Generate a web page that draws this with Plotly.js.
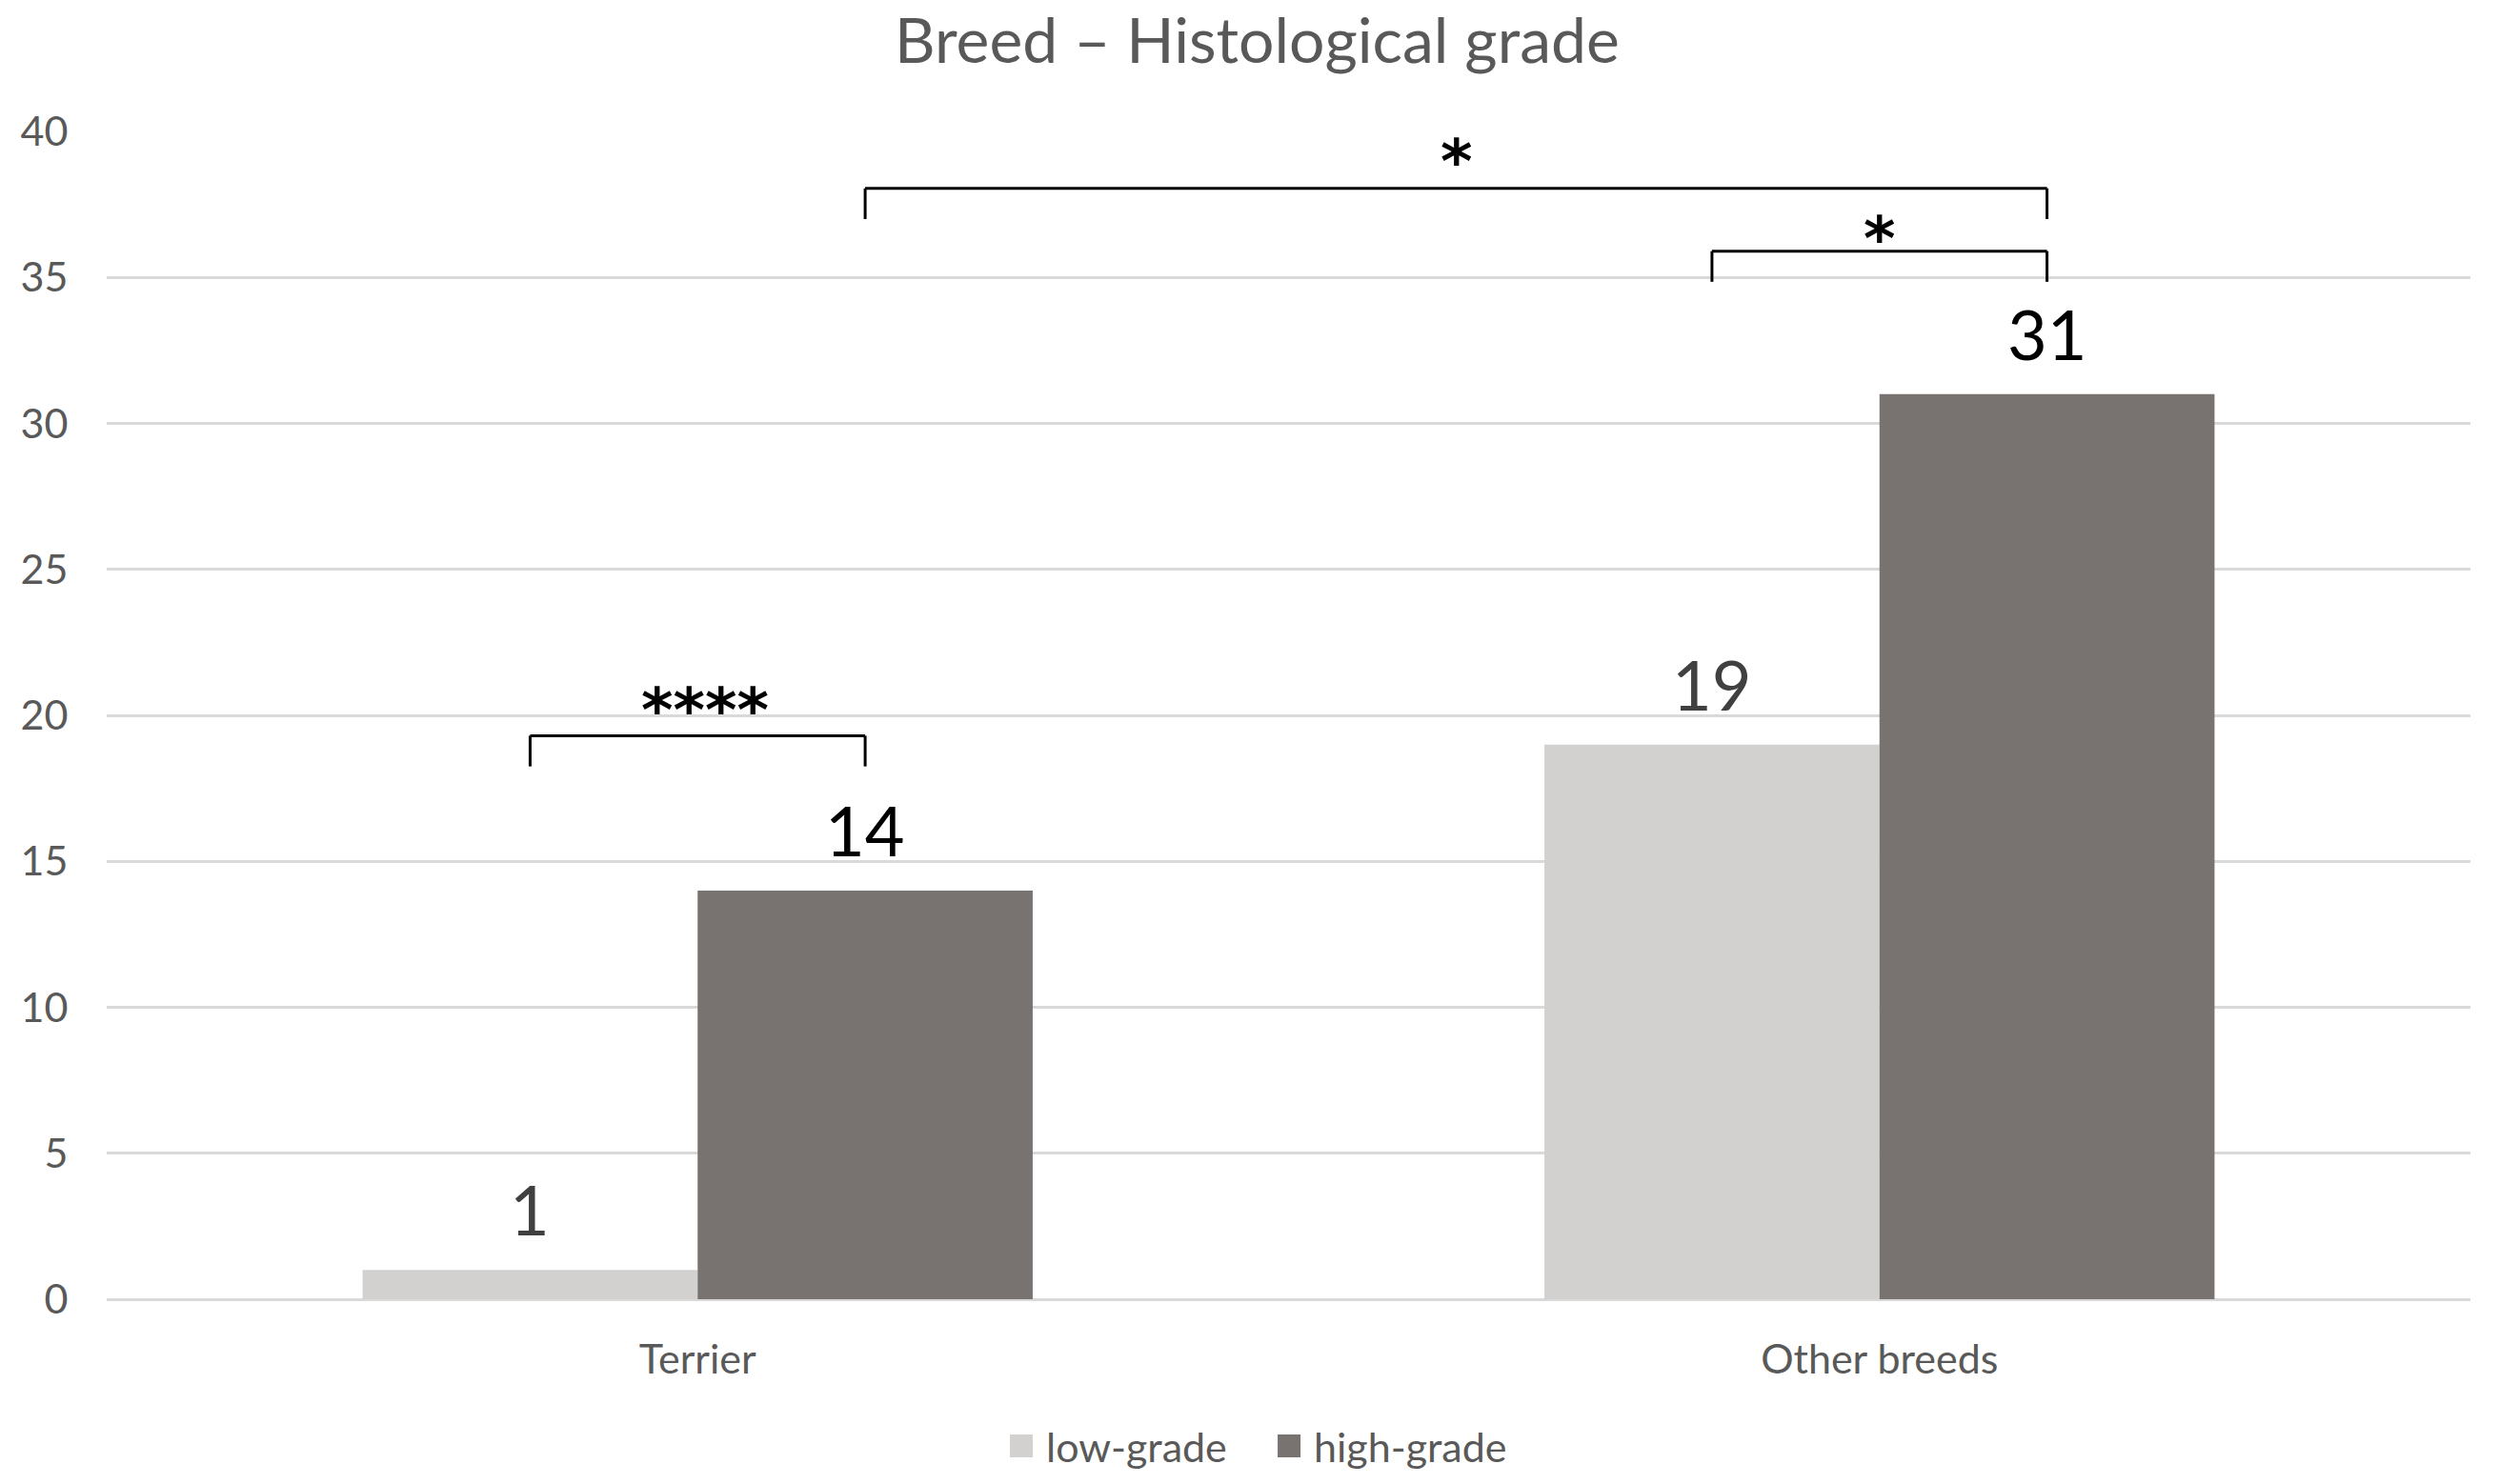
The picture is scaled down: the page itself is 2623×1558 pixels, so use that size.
<!DOCTYPE html>
<html>
<head>
<meta charset="utf-8">
<script src="https://cdn.plot.ly/plotly-3.0.1.min.js"></script>
<style>
  html, body { margin: 0; padding: 0; background: #fff; }
  #chart { width: 2623px; height: 1558px; }
  /* bigger legend swatches, closer to the text, like the original */
  #chart .legendpoints path { transform: translate(14px, 0) scale(2); }
</style>
</head>
<body>
<div id="chart"></div>
<script>
// data
const breeds = ["Terrier", "Other breeds"];
const lowGrade = [1, 19];
const highGrade = [14, 31];
const seriesNames = ["low-grade", "high-grade"];

// significance marks: [seriesA, catA] vs [seriesB, catB], label
const sigLabels = ["****", "*", "*"];
const sigFrom = [[0, 0], [1, 0], [0, 1]];
const sigTo = [[1, 0], [1, 1], [1, 1]];

const barColors = ["#d3d0d0", "#787371"];
const labelColors = ["#404040", "#000000"];
const FONT = "Lato, 'Open Sans', sans-serif";
const bargap = 0.433;

// centre of a bar on the category axis
const barWidth = (1 - bargap) / 2;
const barCenter = (s, c) => c + (s - 0.5) * barWidth;

const allSeries = [lowGrade, highGrade];

const traces = allSeries.map((vals, s) => ({
  type: "bar",
  name: seriesNames[s],
  x: breeds,
  y: vals,
  marker: { color: barColors[s] },
  hoverinfo: "x+y+name"
}));

// value labels above bars
const annotations = [];
allSeries.forEach((vals, s) => {
  vals.forEach((v, c) => {
    annotations.push({
      xref: "x", yref: "y",
      x: barCenter(s, c), y: v,
      yshift: 64, yanchor: "middle",
      text: String(v), showarrow: false,
      font: { family: FONT, size: 72, color: labelColors[s] }
    });
  });
});

// brackets (heights in axis units)
const bracketY = [19.3, 38.05, 35.9];
const legDrop = 1.05;
const starGap = [0.85, 0.9, 0.42];

const shapes = [];
const line = { color: "#000", width: 3 };
sigLabels.forEach((lab, i) => {
  const x0 = barCenter(sigFrom[i][0], sigFrom[i][1]);
  const x1 = barCenter(sigTo[i][0], sigTo[i][1]);
  const y = bracketY[i];
  shapes.push({ type: "line", xref: "x", yref: "y", x0: x0, x1: x1, y0: y, y1: y, line: line });
  shapes.push({ type: "line", xref: "x", yref: "y", x0: x0, x1: x0, y0: y, y1: y - legDrop, line: line });
  shapes.push({ type: "line", xref: "x", yref: "y", x0: x1, x1: x1, y0: y, y1: y - legDrop, line: line });
  annotations.push({
    xref: "x", yref: "y",
    x: (x0 + x1) / 2, y: y + starGap[i],
    xshift: i === 0 ? 8 : 0,
    yanchor: "middle", showarrow: false,
    text: lab,
    font: { family: "'DejaVu Sans', sans-serif", size: 64, color: "#000", weight: "bold" }
  });
});

const layout = {
  width: 2623,
  height: 1558,
  paper_bgcolor: "#fff",
  plot_bgcolor: "#fff",
  margin: { l: 112, r: 30, t: 138, b: 194 },
  font: { family: FONT, color: "#595959" },
  title: {
    text: "Breed – Histological grade",
    x: 0.503, xref: "container", xanchor: "center",
    y: 1 - 43 / 1558, yref: "container", yanchor: "middle",
    font: { family: FONT, size: 66, color: "#595959" }
  },
  barmode: "group",
  bargap: bargap,
  bargroupgap: 0,
  xaxis: {
    type: "category",
    tickfont: { family: FONT, size: 43, color: "#595959" },
    ticks: "outside", ticklen: 25, tickcolor: "rgba(0,0,0,0)",
    showgrid: false, showline: false, zeroline: false
  },
  yaxis: {
    range: [0, 40],
    dtick: 5,
    tickfont: { family: FONT, size: 43, color: "#595959" },
    ticks: "outside", ticklen: 31, tickcolor: "rgba(0,0,0,0)",
    showgrid: true, gridcolor: "#d9d9d9", gridwidth: 3,
    zeroline: true, zerolinecolor: "#d9d9d9", zerolinewidth: 3,
    showline: false
  },
  showlegend: true,
  legend: {
    orientation: "h",
    xref: "container", x: 0.5105, xanchor: "center",
    yref: "container", y: 1 - 1518 / 1558, yanchor: "middle",
    font: { family: FONT, size: 43, color: "#595959" },
    itemwidth: 30,
    entrywidth: 236,
    entrywidthmode: "pixels"
  },
  shapes: shapes,
  annotations: annotations
};

Plotly.newPlot("chart", traces, layout, { displayModeBar: false, staticPlot: true });
</script>
</body>
</html>
